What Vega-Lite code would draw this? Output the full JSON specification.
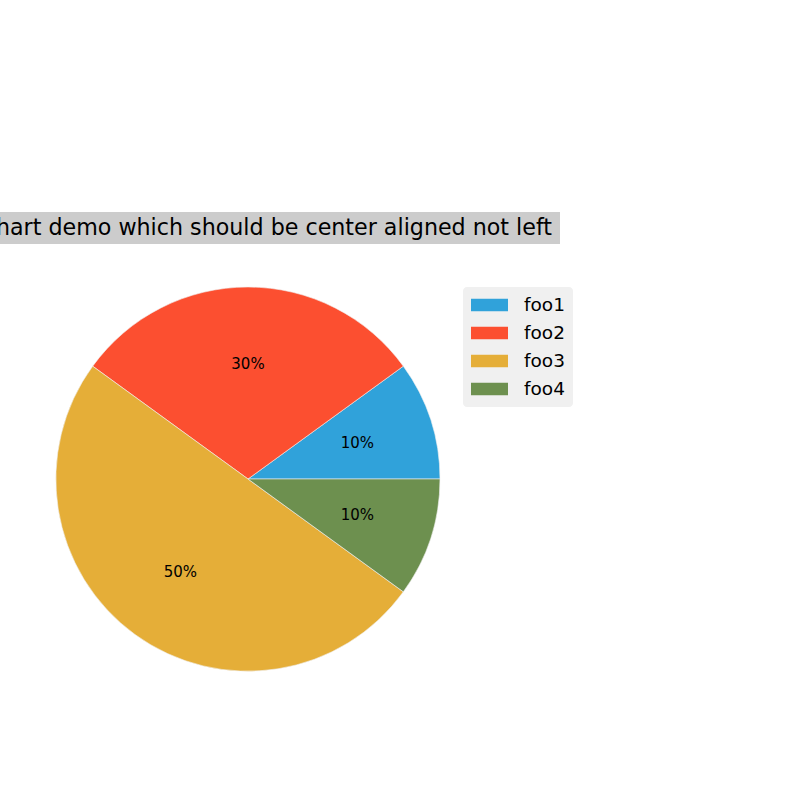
{
  "$schema": "https://vega.github.io/schema/vega-lite/v6.json",
  "autosize": "none",
  "width": 496,
  "height": 458,
  "padding": {"left": 0, "top": 250, "right": 304, "bottom": 92},
  "background": "white",
  "view": {"stroke": null},
  "title": {
    "text": "Pie chart demo which should be center aligned not left",
    "anchor": "middle",
    "font": "DejaVu Sans",
    "fontSize": 22.2,
    "fontWeight": "normal",
    "color": "black",
    "offset": -27
  },
  "data": {
    "values": [
      {"label": "foo1", "share": 0.1},
      {"label": "foo2", "share": 0.3},
      {"label": "foo3", "share": 0.5},
      {"label": "foo4", "share": 0.1}
    ]
  },
  "encoding": {
    "theta": {"field": "share", "type": "quantitative", "stack": true,
      "scale": {"range": [1.5708, -4.7124]}},
    "order": {"field": "label"}
  },
  "layer": [
    {
      "mark": {"type": "rect", "color": "#cccccc"},
      "encoding": {
        "theta": null,
        "order": null,
        "x": {"value": 0},
        "x2": {"value": 560},
        "y": {"value": -38},
        "y2": {"value": -6}
      }
    },
    {
      "mark": {"type": "arc", "radius": 192, "stroke": "#f0f0f0", "strokeWidth": 0.6},
      "encoding": {
        "color": {
          "field": "label", "type": "nominal",
          "scale": {"domain": ["foo1", "foo2", "foo3", "foo4"],
            "range": ["#30a2da", "#fc4f30", "#e5ae38", "#6d904f"]},
          "legend": {
            "title": null,
            "orient": "none",
            "legendX": 463,
            "legendY": 37,
            "symbolType": "M-1,-0.34H1V0.34H-1Z",
            "symbolSize": 1369,
            "symbolStrokeWidth": 0,
            "clipHeight": 20,
            "rowPadding": 8,
            "labelFont": "DejaVu Sans",
            "labelFontSize": 18.5,
            "labelColor": "black",
            "labelOffset": 16,
            "fillColor": "#f0f0f0",
            "cornerRadius": 4,
            "padding": 8
          }
        }
      }
    },
    {
      "mark": {"type": "text", "radius": 115, "font": "DejaVu Sans", "fontSize": 15, "color": "black"},
      "encoding": {
        "text": {"field": "share", "type": "quantitative", "format": ".0%"}
      }
    }
  ]
}
